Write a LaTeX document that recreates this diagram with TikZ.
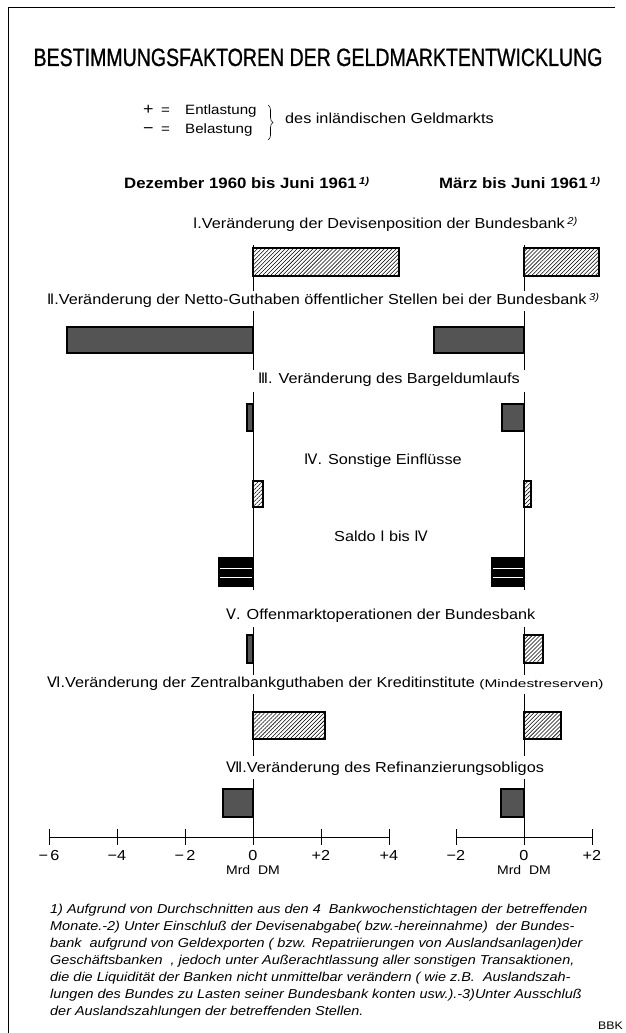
\documentclass[tikz,border=0pt]{standalone}
\usepackage{fontspec}
\setmainfont{Liberation Sans}[FakeStretch=1.12]
\newfontfamily\titlefont{Liberation Sans}[FakeStretch=0.782,FakeBold=0.8]
\newfontfamily\rnfont{DejaVu Sans}
\usetikzlibrary{patterns.meta,decorations.pathreplacing}
\newcommand\RN[1]{{\rnfont #1}}
\newcommand\sups[1]{\,{\fontsize{10}{10}\selectfont\itshape\raisebox{3.5pt}{#1}}}
\tikzset{
  hd/.style={anchor=base west, inner sep=0pt, font=\fontsize{14.5}{17}\selectfont},
  colhd/.style={anchor=base west, inner sep=0pt, font=\fontsize{15}{17}\selectfont\bfseries},
  axl/.style={anchor=base, inner sep=0pt, font=\fontsize{14.5}{16}\selectfont},
  mrd/.style={anchor=base, inner sep=0pt, font=\fontsize{12.5}{14}\selectfont},
  fn/.style={anchor=base west, inner sep=0pt, font=\fontsize{12.9}{17}\selectfont\itshape},
  lg/.style={anchor=base west, inner sep=0pt, font=\fontsize{13.5}{15}\selectfont},
  zeroline/.style={line width=1pt},
  posbar/.style={draw, line width=1.3pt, pattern={Lines[angle=45,distance=2.8pt,line width=0.55pt]}},
  negbar/.style={draw, line width=1.3pt, preaction={fill=black!70}, pattern={Dots[distance=2pt,radius=0.45pt]}, pattern color=white!70!black},
  saldobar/.style={draw, line width=1.3pt, fill=black},
}
\begin{document}
\begin{tikzpicture}[x=1pt,y=-1pt]
\useasboundingbox (0,0) rectangle (625,1033);
% frame
\draw[line width=1pt] (615,8) -- (8,8) -- (8,1033);
% title
\node[anchor=base, inner sep=0pt] (title) at (318,66) {\titlefont\fontsize{25}{25}\selectfont BESTIMMUNGSFAKTOREN DER GELDMARKTENTWICKLUNG};
% legend
\node[lg] (plus) at (143,114) {\makebox[18pt][l]{\fontsize{16}{16}\selectfont +}\makebox[24pt][l]{=}Entlastung};
\node[lg] (minus) at (143,133) {\makebox[18pt][l]{\fontsize{16}{16}\selectfont −}\makebox[24pt][l]{=}Belastung};
\coordinate (bt) at (268,105);
\coordinate (bb) at (268,140);
\draw[line width=0.6pt, decorate, decoration={brace, amplitude=5pt}] (bt) -- (bb);
\node[anchor=base west, inner sep=0pt, font=\fontsize{14.5}{16}\selectfont] (des) at (285,123) {des inländischen Geldmarkts};
% column headers
\node[colhd] (colL) at (124,188) {Dezember 1960 bis Juni 1961\sups{1)}};
\node[colhd] (colR) at (439,188) {März bis Juni 1961\sups{1)}};
% headings
\node[hd] (hI) at (193,228) {\RN{Ⅰ}.Veränderung der Devisenposition der Bundesbank\sups{2)}};
\node[hd] (hII) at (47,304) {\RN{Ⅱ}.Veränderung der Netto-Guthaben öffentlicher Stellen bei der Bundesbank\sups{3)}};
\node[hd] (hIII) at (258,383) {\RN{Ⅲ}. Veränderung des Bargeldumlaufs};
\node[hd] (hIV) at (304,464) {\RN{Ⅳ}. Sonstige Einflüsse};
\node[hd] (hS) at (334,541) {Saldo \RN{Ⅰ} bis \RN{Ⅳ}};
\node[hd] (hV) at (226,619) {\RN{Ⅴ}. Offenmarktoperationen der Bundesbank};
\node[hd] (hVI) at (47,687) {\RN{Ⅵ}.Veränderung der Zentralbankguthaben der Kreditinstitute {\fontsize{11}{11}\selectfont\scalebox{1.25}[1]{(Mindestreserven)}}};
\node[hd] (hVII) at (226,772) {\RN{Ⅶ}.Veränderung des Refinanzierungsobligos};
% zero lines
\foreach \zx in {253,524}{
  \draw[zeroline] (\zx,245) -- (\zx,291);
  \draw[zeroline] (\zx,311) -- (\zx,370);
  \draw[zeroline] (\zx,392) -- (\zx,590);
  \draw[zeroline] (\zx,627) -- (\zx,675);
  \draw[zeroline] (\zx,694) -- (\zx,756);
  \draw[zeroline] (\zx,779) -- (\zx,837);
}
% bars left
\draw[posbar] (253,248) rectangle (399,276);
\draw[negbar] (67,327) rectangle (253,353);
\draw[negbar] (247,404) rectangle (253,431);
\draw[posbar] (253,481) rectangle (263,507);
\draw[saldobar] (219,558) rectangle (253,586);
\draw[negbar] (247,635) rectangle (253,663);
\draw[posbar] (253,712) rectangle (325,739);
\draw[negbar] (223,789) rectangle (253,817);
% bars right
\draw[posbar] (524,248) rectangle (599,276);
\draw[negbar] (434,327) rectangle (524,353);
\draw[negbar] (502,404) rectangle (524,431);
\draw[posbar] (524,481) rectangle (531,507);
\draw[saldobar] (492,558) rectangle (524,586);
\draw[posbar] (524,635) rectangle (543,663);
\draw[posbar] (524,712) rectangle (561,739);
\draw[negbar] (501,789) rectangle (524,817);
% saldo white lines
\draw[white, line width=0.9pt] (220,568) -- (252,568) (220,577) -- (252,577);
\draw[white, line width=0.9pt] (493,568) -- (523,568) (493,577) -- (523,577);
% axes
\draw[line width=1pt] (49,837) -- (389,837);
\foreach \tx in {49,117,185,253,321,389} \draw[line width=1pt] (\tx,829) -- (\tx,845);
\draw[line width=1pt] (456,837) -- (592,837);
\foreach \tx in {456,524,592} \draw[line width=1pt] (\tx,829) -- (\tx,845);
\node[axl] (lm6) at (49,860) {−\,6};
\node[axl] (lm4) at (117,860) {−4};
\node[axl] (lm2) at (185,860) {−\,2};
\node[axl] (l0) at (253,860) {0};
\node[axl] (lp2) at (321,860) {+2};
\node[axl] (lp4) at (389,860) {+4};
\node[axl] (rm2) at (456,860) {−2};
\node[axl] (r0) at (524,860) {0};
\node[axl] (rp2) at (592,860) {+2};
\node[mrd] (mrdL) at (253,874) {Mrd\ \ DM};
\node[mrd] (mrdR) at (524,874) {Mrd\ \ DM};
% footnotes
\node[fn] (f1) at (50,913) {1) Aufgrund von Durchschnitten aus den 4 \ Bankwochenstichtagen der betreffenden};
\node[fn] (f2) at (50,930) {Monate.-2) Unter Einschluß der Devisenabgabe( bzw.-hereinnahme) \ der Bundes-};
\node[fn] (f3) at (50,947) {bank \ aufgrund von Geldexporten ( bzw. Repatriierungen von Auslandsanlagen)der};
\node[fn] (f4) at (50,964) {Geschäftsbanken \ , jedoch unter Außerachtlassung aller sonstigen Transaktionen,};
\node[fn] (f5) at (50,981) {die die Liquidität der Banken nicht unmittelbar verändern ( wie z.B. \ Auslandszah-};
\node[fn] (f6) at (50,998) {lungen des Bundes zu Lasten seiner Bundesbank konten usw.).-3)Unter Ausschluß};
\node[fn] (f7) at (50,1015) {der Auslandszahlungen der betreffenden Stellen.};
\node[anchor=base east, inner sep=0pt, font=\fontsize{11}{11}\selectfont] (bbk) at (623,1029) {BBK};
\end{tikzpicture}
\end{document}
